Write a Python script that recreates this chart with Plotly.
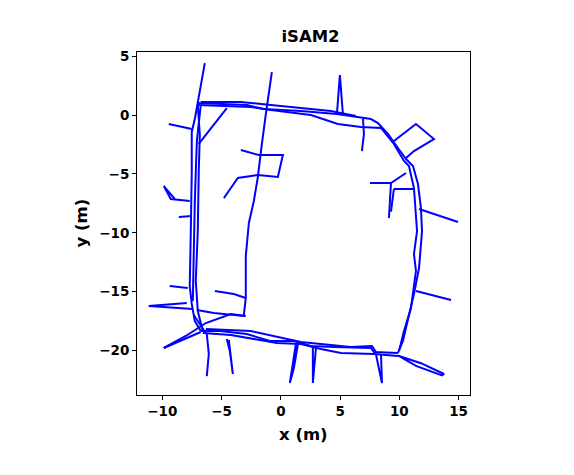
import plotly.graph_objects as go

# Trajectory estimate (metres); None separates pieces of the path
left_x = [-6.42, -7.01, -7.26, -7.52, -7.52, -7.60, -7.69, -7.52, -7.26, -6.76, None,
          -7.01, -6.84, -6.93, -7.01, -7.18, -7.01, -6.59, None,
          -6.76, -7.09, -7.26, -7.35, -7.43]
left_y = [4.41, 0.93, -0.34, -1.44, -4.84, -9.85, -14.52, -16.04, -17.49, -18.34, None,
          0.93, -1.70, -4.84, -9.85, -14.09, -16.64, -18.34, None,
          0.85, -2.21, -7.30, -12.39, -15.79]

top_x = [-7.01, -4.56, -2.87, -1.44, 1.69, 4.73, 6.76, 7.60, 8.19, 9.04, 9.88, 10.56, 11.15,
         11.57, 11.82, 11.91, 11.66, 11.23, 10.30, 9.88, None,
         -7.01, -2.53, -0.84, 2.53, 4.81, 6.76, 8.45, 9.54, 10.39, 10.81, 11.23, 11.49,
         11.23, 11.40, 10.98, 10.39, 9.97, None,
         -6.76, -3.38, -0.84, 4.22, 6.33]
top_y = [1.02, 0.93, 0.85, 0.51, 0.34, 0.08, -0.25, -0.34, -0.68, -1.61, -2.80, -3.74, -4.33,
         -5.86, -7.89, -9.85, -12.99, -15.20, -19.19, -20.20, None,
         0.85, 0.68, 0.42, 0.00, -0.76, -1.02, -1.10, -2.46, -3.90, -4.33, -6.20, -9.85,
         -11.80, -13.24, -16.38, -18.34, -20.03, None,
         1.10, 1.10, 0.85, 0.34, -0.08]

bottom_x = [-6.76, -5.15, -2.87, -0.93, 1.10, 2.53, 4.48, 7.60, 7.85, 9.88, None,
            -6.59, -4.22, -0.34, 1.69, 3.38, 5.07, 7.85, 9.88, None,
            -6.33, -2.53, 1.69, 5.91, 7.69, 8.02]
bottom_y = [-18.34, -18.34, -18.59, -19.19, -19.19, -19.61, -19.69, -19.78, -20.12, -20.20, None,
            -18.51, -18.68, -19.35, -19.44, -19.86, -20.20, -20.29, -20.46, None,
            -18.17, -18.34, -19.27, -19.69, -19.61, -20.12]

inner_x = [-0.76, -1.01, -1.27, -1.69, -1.94, -2.28, -2.70, -2.96, -2.96, -3.13, -5.66, -7.09, None,
           -3.38, -1.86, 0.17, -0.25, -1.94, -3.63, -4.22, -4.81, None,
           -5.57, -3.97, -2.96, None,
           -4.56, -6.93]
inner_y = [3.65, 1.95, 0.08, -3.14, -5.26, -7.30, -9.17, -11.97, -15.53, -17.06, -16.81, -16.55, None,
           -2.97, -3.40, -3.40, -5.26, -5.09, -5.35, -6.20, -7.05, None,
           -14.94, -15.20, -15.53, None,
           0.59, -2.46]

spur_x = [-9.46, -7.52, None,
          -7.69, -9.29, -9.88, -8.95, None,
          -8.61, -7.52, None,
          -9.38, -7.85, None,
          -7.43, -11.15, -7.94, None,
          -9.88, -6.76, None,
          -9.88, -8.02, -6.33, -4.22, -2.96, None,
          -7.35, -6.33, None,
          -6.25, -6.08, -6.25, None,
          -4.56, -4.31, -4.05, -4.39, None,
          1.44, 1.10, 0.76, 1.27, None,
          2.70, 2.70, 2.96, None,
          8.02, 8.53, 8.45, None,
          9.97, 11.82, 13.77, 13.60, 11.40, 9.88, None,
          11.40, 14.36, None,
          11.66, 14.95, None,
          9.54, 11.40, 12.92, 11.23, 10.56, None,
          7.52, 9.29, 10.56, None,
          9.29, 9.12, None,
          9.54, 11.15, None,
          9.54, 9.29, None,
          6.93, 7.01, 6.84, None,
          4.73, 4.98, 5.24]
spur_y = [-0.76, -1.19, None,
          -7.30, -7.13, -6.03, -7.13, None,
          -8.66, -8.57, None,
          -14.52, -14.69, None,
          -16.47, -16.21, -15.96, None,
          -19.78, -18.42, None,
          -19.78, -18.76, -17.66, -16.89, -17.06, None,
          -16.98, -18.51, None,
          -18.59, -20.29, -22.16, None,
          -19.02, -20.03, -21.99, -19.10, None,
          -19.44, -21.48, -22.75, -19.40, None,
          -19.69, -22.75, -19.78, None,
          -20.29, -22.75, -20.29, None,
          -20.46, -21.07, -21.99, -22.10, -21.30, -20.40, None,
          -14.94, -15.70, None,
          -7.98, -9.08, None,
          -2.21, -0.76, -2.04, -3.06, -3.65, None,
          -5.77, -5.77, -4.92, None,
          -5.77, -8.74, None,
          -6.28, -6.28, None,
          -6.28, -8.20, None,
          -0.34, -1.61, -3.06, None,
          0.08, 3.40, 0.00]

x_range = [-12.14, 15.96]
y_range = [-23.77, 5.35]
x_ticks = [-10, -5, 0, 5, 10, 15]
y_ticks = [5, 0, -5, -10, -15, -20]

fig = go.Figure()
for xs, ys in [(left_x, left_y), (top_x, top_y), (bottom_x, bottom_y),
               (inner_x, inner_y), (spur_x, spur_y)]:
    fig.add_trace(go.Scatter(x=xs, y=ys, mode="lines", connectgaps=False,
                             line=dict(color="#0000ff", width=2), hoverinfo="skip",
                             showlegend=False))

font_family = "DejaVu Sans"
axis_common = dict(showgrid=False, zeroline=False, showline=True, linecolor="black",
                   linewidth=1, mirror=True, ticks="outside", ticklen=4, tickwidth=1,
                   tickcolor="black",
                   tickfont=dict(family=font_family, size=13.5, color="black", weight="bold"))

fig.update_layout(
    width=574, height=475,
    margin=dict(l=129, r=112, t=44, b=88),
    paper_bgcolor="white", plot_bgcolor="white",
    title=dict(text="<b>iSAM2</b>", x=0.527, xanchor="center", y=1 - 28 / 475,
               yanchor="middle", yref="container",
               font=dict(family=font_family, size=16.5, color="black")),
    xaxis=dict(range=x_range, tickvals=x_ticks, **axis_common),
    yaxis=dict(range=y_range, tickvals=y_ticks, **axis_common),
    annotations=[
        dict(text="<b>x (m)</b>", xref="paper", yref="paper", x=0.5, y=(394 - 433) / 343,
             xanchor="center", yanchor="middle", showarrow=False,
             font=dict(family=font_family, size=16.5, color="black")),
        dict(text="<b>y (m)</b>", xref="paper", yref="paper", x=(80 - 136) / 333, y=0.5,
             xanchor="center", yanchor="middle", showarrow=False, textangle=-90,
             font=dict(family=font_family, size=16.5, color="black")),
    ],
)

fig.write_html("out.html")
